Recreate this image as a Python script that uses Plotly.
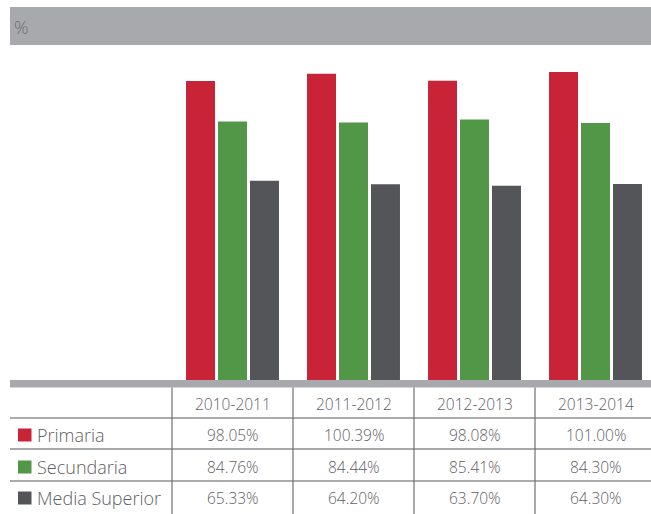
import plotly.graph_objects as go

# School-year periods and enrolment coverage (%) by level
periods = ["2010-2011", "2011-2012", "2012-2013", "2013-2014"]
levels = ["Primaria", "Secundaria", "Media Superior"]
primaria = [98.05, 100.39, 98.08, 101.00]
secundaria = [84.76, 84.44, 85.41, 84.30]
media_superior = [65.33, 64.20, 63.70, 64.30]
unit_label = "%"

series = [primaria, secundaria, media_superior]
colors = ["#c82337", "#529648", "#545559"]

W, H = 651, 514
TEXT = "#5f6064"
FONT = "Open Sans"
LIGHT = 300


def px(x):
    return x / W


def py(y):
    return 1 - y / H


# layout geometry (pixels)
col_left = 172
col_w = 121
base_y = 380
top_y = 50
px_per_unit = 3.05

fig = go.Figure()
xs = list(range(len(periods)))
for name, vals, c in zip(levels, series, colors):
    fig.add_trace(go.Bar(x=xs, y=vals, name=name, marker=dict(color=c, line=dict(width=0)),
                         hoverinfo="y+name"))

x_max = -0.5 + (W - col_left) / col_w
y_max = (base_y - top_y) / px_per_unit

shapes = []
annotations = []

# header band with unit label
shapes.append(dict(type="rect", xref="paper", yref="paper", x0=px(10), x1=1, y0=py(45), y1=py(7),
                   fillcolor="#a7a9ac", line=dict(width=0), layer="below"))
annotations.append(dict(text=unit_label, xref="paper", yref="paper", x=px(12), y=py(27),
                        xanchor="left", yanchor="middle", showarrow=False,
                        font=dict(family=FONT, size=18, color="#6d6e71", weight=LIGHT)))

# baseline band under the bars
shapes.append(dict(type="rect", xref="paper", yref="paper", x0=px(10), x1=1, y0=py(387.5), y1=py(380),
                   fillcolor="#a7a9ac", line=dict(width=0)))

# table rows
row_lines = [(418, "#58595b", 1.2), (449, "#a7a9ac", 2), (481, "#58595b", 1.2)]
for y, c, w in row_lines:
    shapes.append(dict(type="line", xref="paper", yref="paper", x0=px(10), x1=1, y0=py(y), y1=py(y),
                       line=dict(color=c, width=w)))
for i in range(len(periods)):
    x = col_left + i * col_w
    shapes.append(dict(type="line", xref="paper", yref="paper", x0=px(x), x1=px(x), y0=py(387.5), y1=0,
                       line=dict(color="#707173", width=1.2)))

header_y = 404
row_ys = [435, 467, 498]

for i, p in enumerate(periods):
    annotations.append(dict(text=p, x=i, xref="x", y=py(header_y), yref="paper", showarrow=False,
                            xanchor="center", yanchor="middle",
                            font=dict(family=FONT, size=15.5, color=TEXT, weight=LIGHT)))

for r, (name, vals, c) in enumerate(zip(levels, series, colors)):
    yc = row_ys[r]
    shapes.append(dict(type="rect", xref="paper", yref="paper", x0=px(18), x1=px(31.5),
                       y0=py(yc + 6.5), y1=py(yc - 6.5), fillcolor=c, line=dict(width=0)))
    annotations.append(dict(text=name, x=px(35), xref="paper", y=py(yc), yref="paper", showarrow=False,
                            xanchor="left", yanchor="middle",
                            font=dict(family=FONT, size=18, color=TEXT, weight=LIGHT)))
    for i, v in enumerate(vals):
        annotations.append(dict(text=f"{v:.2f}%", x=i, xref="x", y=py(yc), yref="paper", showarrow=False,
                                xanchor="center", yanchor="middle",
                                font=dict(family=FONT, size=15.5, color=TEXT, weight=LIGHT)))

fig.update_layout(
    width=W, height=H,
    margin=dict(l=0, r=0, t=0, b=0),
    paper_bgcolor="white", plot_bgcolor="white",
    barmode="group", bargap=0.207, bargroupgap=0.094,
    showlegend=False,
    xaxis=dict(domain=[px(col_left), 1], range=[-0.5, x_max], visible=False, fixedrange=True),
    yaxis=dict(domain=[py(base_y), py(top_y)], range=[0, y_max], visible=False, fixedrange=True),
    shapes=shapes, annotations=annotations,
    font=dict(family=FONT),
)

fig.write_html("out.html")
